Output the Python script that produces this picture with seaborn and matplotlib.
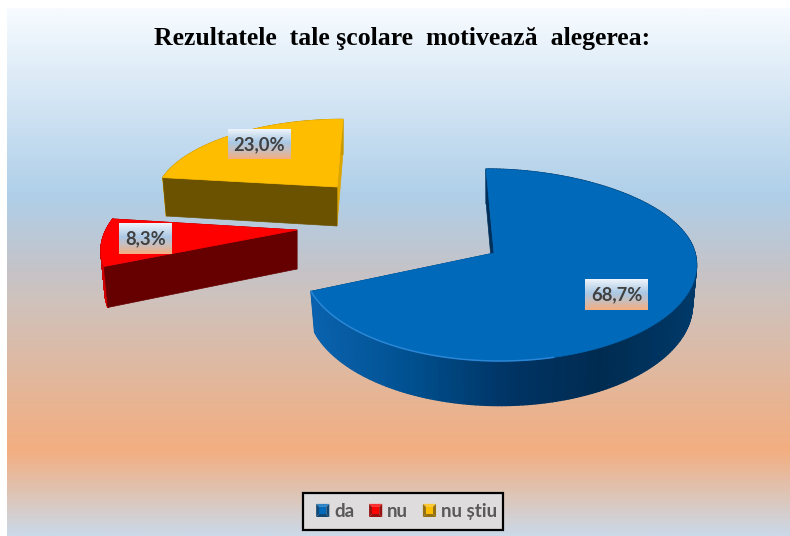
import numpy as np
import matplotlib
matplotlib.use('Agg')
import matplotlib.pyplot as plt
import seaborn as sns
from matplotlib.collections import PolyCollection
from matplotlib.colors import LinearSegmentedColormap
from matplotlib.legend_handler import HandlerBase
from matplotlib.patches import Patch, Polygon, Rectangle

# --- DATA ---
categories = ['da', 'nu', 'nu știu']
shares = [68.7, 8.3, 23.0]
value_labels = ['68,7%', '8,3%', '23,0%']
title = 'Rezultatele  tale şcolare  motivează  alegerea:'

# --- COLORS ---
top_colors = ['#0069b9', '#ff0000', '#ffbd00']
near_walls = ['#00305a', '#660000', '#6b5200']
far_walls = ['#00305a', '#660000', '#dca500']
rim_colors = [['#0a62ae', '#00508f', '#003566', '#002b50', '#003a6a'],
              ['#d00000', '#d00000'],
              ['#c99a00', '#c99a00']]
background_stops = [(8, '#f7fbff'), (195, '#afcfe9'), (270, '#c5c3c8'),
                    (300, '#cfc2bc'), (451, '#f3ae80'), (536, '#cbd9e8')]
label_stops = [(0.0, '#eef4fa'), (0.45, '#a9c8e4'), (0.7, '#c9bfbe'), (1.0, '#f3ae80')]

# --- LAYOUT (pixels of the picture) ---
# apex, rim offset, radius, vertical radius, shear of every exploded slice
apex = [(494, 253), (297, 230), (337, 187)]
rim_shift = [6, 0, 0]
radius_x = [195, 191, 179]
radius_y = [94.5, 90, 76]
shear = [0, 20, 6]
shear_back = [-14, 0, 0]
depth = 39
perspective = 0.125
pull = 0.98
label_boxes = [(585, 279, 63, 31), (119, 223, 53, 31), (228, 129, 63, 30)]

sns.set_theme(style='white')
plt.rcParams['font.family'] = ['Lato', 'DejaVu Sans']

fig = plt.figure(figsize=(7.9, 5.36), dpi=100)
ax = fig.add_axes([0, 0, 1, 1])


def ramp(stops, name):
    low, high = stops[0][0], stops[-1][0]
    return LinearSegmentedColormap.from_list(
        name, [((pos - low) / (high - low), col) for pos, col in stops])


# background gradient
ax.imshow(np.linspace(0, 1, 512).reshape(-1, 1), cmap=ramp(background_stops, 'bg'),
          extent=(7, 790, 536, 8), aspect='auto', zorder=0)


def rim_points(i, theta):
    u, v = np.sin(theta), np.cos(theta)
    s = 1 / (1 + perspective * v)
    dx = rim_shift[i] + radius_x[i] * u * s + shear[i] * v + shear_back[i] * np.clip(v, 0, 1) ** 2
    dy = -radius_y[i] * v * s
    return dx, dy, depth * s


def draw_wall(i, theta, color, z):
    dx, dy, d = rim_points(i, np.array(theta))
    ax0, ay0 = apex[i]
    ax.add_patch(Polygon([(ax0, ay0), (ax0 + dx, ay0 + dy),
                          (ax0 + pull * dx, ay0 + dy + d), (ax0, ay0 + depth)],
                         closed=True, fc=color, ec=color, lw=0.5, zorder=z))


ends = np.cumsum(shares) / np.sum(shares) * 2 * np.pi
starts = np.concatenate([[0], ends[:-1]])

for i, name in enumerate(categories):
    z = 2 + i * 5 if i else 12  # the big slice sits in front of the others
    theta = np.linspace(starts[i], ends[i], 220)
    dx, dy, d = rim_points(i, theta)
    cx, cy = apex[i]

    draw_wall(i, ends[i], far_walls[i], z)

    # rim, shaded from left to right
    top_x, top_y = cx + dx, cy + dy
    low_x, low_y = cx + pull * dx, cy + dy + d
    quads = [[(top_x[k], top_y[k]), (top_x[k + 1], top_y[k + 1]),
              (low_x[k + 1], low_y[k + 1]), (low_x[k], low_y[k])]
             for k in range(len(theta) - 1)]
    shade = sns.blend_palette(rim_colors[i], n_colors=64)
    pos = np.clip((top_x[:-1] - top_x.min()) / (top_x.max() - top_x.min()), 0, 1)
    face = [shade[int(p * 63)] for p in pos]
    ax.add_collection(PolyCollection(quads, facecolors=face, edgecolors=face,
                                     linewidths=1.0, zorder=z + 1))

    draw_wall(i, starts[i], near_walls[i], z + 2)

    # top surface
    outline = [(cx, cy)] + list(zip(top_x, top_y))
    ax.add_patch(Polygon(outline, closed=True, fc=top_colors[i], ec=top_colors[i],
                         lw=0.5, zorder=z + 3))

    # soft highlight along the front of the big slice
    if i == 0:
        front = theta > np.radians(165)
        ax.plot(top_x[front], top_y[front], color='#2b86d6', lw=1.1, zorder=z + 3.5)

# value labels on a little gradient box
label_cmap = ramp(label_stops, 'lab')
for box, text in zip(label_boxes, value_labels):
    x0, y0, w, h = box
    ax.imshow(np.linspace(0, 1, 64).reshape(-1, 1), cmap=label_cmap,
              extent=(x0, x0 + w, y0 + h, y0), aspect='auto', zorder=30)
    ax.text(x0 + w / 2, y0 + h / 2 + 0.5, text, ha='center', va='center',
            fontsize=13.2, fontweight='bold', color='#404040', zorder=31)

ax.text(402.5, 39, title, ha='center', va='center', fontsize=18.5, fontweight='bold',
        family='Liberation Serif', color='black', zorder=31)


# legend keys are small bevelled squares
class BevelKey(HandlerBase):
    def create_artists(self, legend, orig_handle, xdescent, ydescent, width, height,
                       fontsize, trans):
        base = orig_handle.get_facecolor()
        dark = sns.dark_palette(base, n_colors=3)[1]
        light = sns.light_palette(base, n_colors=6)[4]
        x0, y0 = -xdescent, -ydescent
        x1, y1 = x0 + width, y0 + height
        mx0, my0, mx1, my1 = x0 + 2.2, y0 + 2.2, x1 - 2.2, y1 - 2.2
        pieces = [
            ([(x0, y1), (x1, y1), (mx1, my1), (mx0, my1)], light),
            ([(x0, y0), (x0, y1), (mx0, my1), (mx0, my0)], dark),
            ([(x1, y0), (x1, y1), (mx1, my1), (mx1, my0)], dark),
            ([(x0, y0), (x1, y0), (mx1, my0), (mx0, my0)], dark),
            ([(mx0, my0), (mx1, my0), (mx1, my1), (mx0, my1)], base),
        ]
        return [Polygon(p, closed=True, fc=c, ec='none', transform=trans) for p, c in pieces]


# frame is drawn apart, the keys do not sit centred in it
ax.add_patch(Rectangle((303, 493), 200, 37, fc='#dedcdc', ec='black', lw=1.6, zorder=39))
handles = [Patch(facecolor=c, label=n) for c, n in zip(top_colors, categories)]
leg = ax.legend(handles=handles, handler_map={Patch: BevelKey()}, ncol=3,
                loc='center', bbox_to_anchor=(406.5, 511.5), bbox_transform=ax.transData,
                frameon=False, fontsize=13.5, handlelength=0.7, handleheight=0.7,
                handletextpad=0.25, columnspacing=0.8, borderpad=0, labelcolor='#595959')
leg.set_zorder(40)
for t in leg.get_texts():
    t.set_fontweight('bold')

ax.set_xlim(0, 790)
ax.set_ylim(536, 0)
ax.axis('off')

fig.savefig('out.png', dpi=100, facecolor='white')
